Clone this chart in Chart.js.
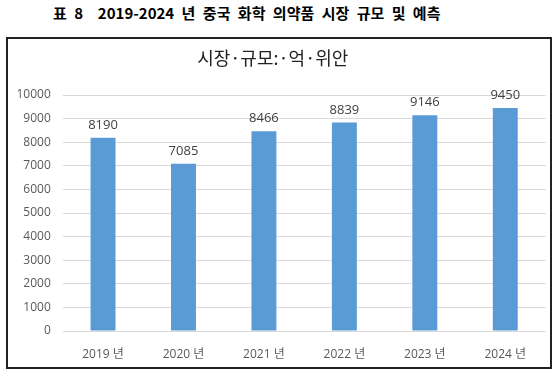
<!DOCTYPE html>
<html><head><meta charset="utf-8">
<script src="https://cdn.jsdelivr.net/npm/chart.js@4"></script>
<style>
html,body{margin:0;padding:0;background:#fff;width:556px;height:376px;overflow:hidden;}
#hdr{position:absolute;left:53px;top:3px;font-family:"Noto Sans CJK KR",sans-serif;font-weight:bold;font-size:15px;color:#000;white-space:pre;line-height:20px;word-spacing:4px;}
#box{position:absolute;left:6px;top:37px;width:542px;height:328px;border:2px solid #222;box-sizing:content-box;}
#wrap{position:absolute;left:0;top:0;width:556px;height:376px;}
</style></head>
<body>
<div id="hdr">표 8  2019-2024 년 중국 화학 의약품 시장 규모 및 예측</div>
<div id="box"></div>
<div id="wrap"><canvas id="c" width="556" height="376"></canvas></div>
<script>
const categories = ["2019 년","2020 년","2021 년","2022 년","2023 년","2024 년"];
const marketSize = [8190, 7085, 8466, 8839, 9146, 9450];
const yTicks = [0,1000,2000,3000,4000,5000,6000,7000,8000,9000,10000];
const chartTitle = "시장·규모:·억·위안";

const valueLabels = {
  id:'valueLabels',
  afterDatasetsDraw(chart){
    const ctx = chart.ctx;
    const meta = chart.getDatasetMeta(0);
    ctx.save();
    ctx.font = '13px "Open Sans","Noto Sans CJK KR",sans-serif';
    ctx.fillStyle = '#404040';
    ctx.textAlign = 'center';
    ctx.textBaseline = 'bottom';
    meta.data.forEach((bar,i)=>{
      ctx.fillText(String(chart.data.datasets[0].data[i]), bar.x, bar.y - 6);
    });
    ctx.restore();
  }
};

new Chart(document.getElementById('c'), {
  type:'bar',
  data:{labels:categories, datasets:[{data:marketSize, backgroundColor:'#5B9BD5', barPercentage:0.31, categoryPercentage:1}]},
  options:{
    responsive:false, animation:false,
    layout:{padding:{left:0,right:10.5,top:0,bottom:0}},
    plugins:{
      legend:{display:false}, tooltip:{enabled:false},
      title:{display:true, text:chartTitle, color:'#222', font:{family:'"Noto Sans CJK KR",sans-serif', size:18, weight:'normal'}, padding:{top:47,bottom:26.4}}
    },
    scales:{
      x:{
        grid:{display:false}, border:{display:false},
        ticks:{color:'#595959', font:{family:'"Open Sans","Noto Sans CJK KR",sans-serif', size:12}, padding:8, maxRotation:0},
        afterFit(s){ s.height = 45; }
      },
      y:{
        min:0, max:10000,
        afterBuildTicks(s){ s.ticks = yTicks.map(v=>({value:v})); },
        grid:{color:'#D9D9D9', drawTicks:false}, border:{display:false},
        ticks:{color:'#595959', font:{family:'"Open Sans",sans-serif', size:12}, padding:12, callback:(v)=>String(v)},
        afterFit(s){ s.width = 62.8; }
      }
    }
  },
  plugins:[valueLabels]
});
</script>
</body></html>
